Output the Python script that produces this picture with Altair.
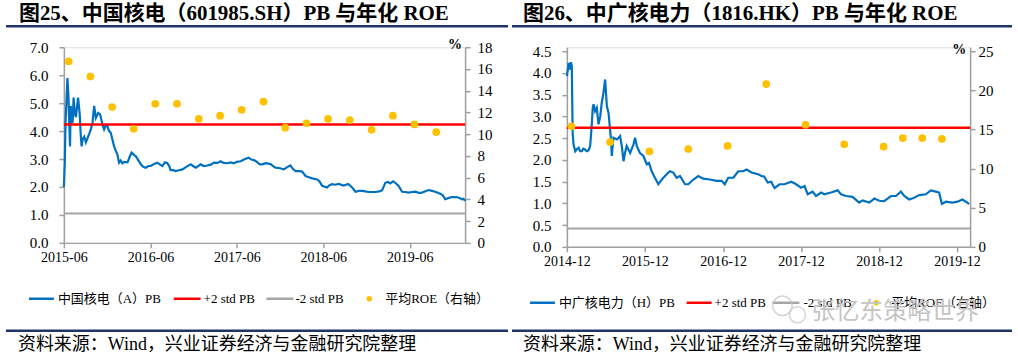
import altair as alt
import pandas as pd

# ================= 图25 中国核电 (left panel) =================
L_TITLE = "图25、中国核电（601985.SH）PB 与年化 ROE"
L_LEGEND = ["中国核电（A）PB", "+2 std PB", "-2 std PB", "平均ROE（右轴）"]
L_PB_DATES = [
    "2015-06-10", "2015-06-14", "2015-06-17", "2015-06-25", "2015-06-29", "2015-07-02", "2015-07-06",
    "2015-07-09", "2015-07-13", "2015-07-17", "2015-07-21", "2015-07-27", "2015-07-31", "2015-08-05",
    "2015-08-09", "2015-08-16", "2015-08-20", "2015-08-24", "2015-08-28", "2015-09-04", "2015-09-11",
    "2015-09-18", "2015-09-25", "2015-10-02", "2015-10-09", "2015-10-16", "2015-10-23", "2015-11-02",
    "2015-11-10", "2015-11-20", "2015-11-27", "2015-12-04", "2015-12-11", "2015-12-18", "2015-12-25",
    "2016-01-01", "2016-01-08", "2016-01-15", "2016-01-22", "2016-01-29", "2016-02-05", "2016-02-12",
    "2016-02-19", "2016-03-05", "2016-03-15", "2016-03-22", "2016-04-01", "2016-04-09", "2016-04-20",
    "2016-04-30", "2016-05-10", "2016-05-21", "2016-06-01", "2016-06-11", "2016-06-25", "2016-07-09",
    "2016-07-20", "2016-07-30", "2016-08-10", "2016-08-20", "2016-08-28", "2016-09-03", "2016-09-14",
    "2016-09-24", "2016-10-08", "2016-10-23", "2016-11-08", "2016-11-27", "2016-12-05", "2016-12-18",
    "2017-01-08", "2017-01-20", "2017-02-05", "2017-02-20", "2017-03-05", "2017-03-20", "2017-04-02",
    "2017-04-15", "2017-04-30", "2017-05-15", "2017-05-28", "2017-06-10", "2017-06-26", "2017-07-10",
    "2017-07-20", "2017-07-30", "2017-08-10", "2017-08-21", "2017-08-28", "2017-09-15", "2017-09-25",
    "2017-10-10", "2017-10-30", "2017-11-10", "2017-11-20", "2017-12-05", "2017-12-25", "2018-01-10",
    "2018-01-22", "2018-02-01", "2018-02-13", "2018-03-01", "2018-03-13", "2018-03-27", "2018-04-10",
    "2018-04-24", "2018-05-15", "2018-05-25", "2018-06-05", "2018-06-26", "2018-07-05", "2018-07-17",
    "2018-07-30", "2018-08-14", "2018-09-04", "2018-09-23", "2018-10-10", "2018-10-24", "2018-11-07",
    "2018-11-21", "2018-12-05", "2018-12-19", "2019-01-16", "2019-02-01", "2019-02-13", "2019-02-22",
    "2019-02-27", "2019-03-10", "2019-03-20", "2019-04-01", "2019-04-10", "2019-04-24", "2019-05-09",
    "2019-05-22", "2019-06-05", "2019-06-20", "2019-07-04", "2019-07-18", "2019-08-01", "2019-08-15",
    "2019-08-29", "2019-09-12", "2019-09-26", "2019-10-17", "2019-10-28", "2019-11-07", "2019-11-20",
    "2019-12-05", "2019-12-26", "2020-01-08", "2020-01-16", "2020-01-23", "2020-01-30",
]
L_PB_VALUES = [
    2.00, 2.90, 4.30, 5.90, 5.30, 4.50, 3.45,
    4.90, 4.40, 4.30, 5.20, 4.60, 4.50, 4.90,
    5.20, 4.60, 3.90, 3.45, 3.70, 3.80, 3.60,
    3.75, 3.90, 4.07, 4.30, 4.90, 4.47, 4.65,
    4.60, 4.24, 4.06, 4.20, 4.18, 4.00, 3.94,
    3.70, 3.46, 3.30, 3.17, 2.87, 2.95, 2.85,
    2.90, 2.88, 3.10, 3.23, 3.15, 3.10, 2.95,
    2.81, 2.72, 2.69, 2.75, 2.75, 2.82, 2.87,
    2.80, 2.75, 2.88, 2.85, 2.75, 2.60, 2.60,
    2.57, 2.60, 2.63, 2.72, 2.81, 2.76, 2.69,
    2.81, 2.75, 2.77, 2.80, 2.87, 2.86, 2.92,
    2.86, 2.85, 2.88, 2.85, 2.90, 2.92, 2.98,
    3.02, 3.05, 2.98, 2.96, 2.93, 2.81, 2.81,
    2.85, 2.82, 2.75, 2.69, 2.68, 2.63, 2.72,
    2.77, 2.65, 2.57, 2.57, 2.55, 2.39, 2.35,
    2.31, 2.27, 2.20, 2.04, 1.98, 2.06, 2.10,
    2.08, 2.11, 2.05, 2.11, 1.98, 1.83, 1.86,
    1.86, 1.84, 1.82, 1.82, 1.84, 1.88, 2.05,
    2.15, 2.18, 2.13, 2.20, 2.15, 2.04, 1.83,
    1.82, 1.80, 1.82, 1.83, 1.79, 1.80, 1.85,
    1.89, 1.86, 1.83, 1.76, 1.70, 1.56, 1.60,
    1.64, 1.64, 1.60, 1.56, 1.58, 1.50,
]
L_ROE_DATES = [
    "2015-06-30", "2015-09-30", "2015-12-31", "2016-03-31", "2016-06-30", "2016-09-30",
    "2016-12-31", "2017-03-31", "2017-06-30", "2017-09-30", "2017-12-31", "2018-03-31",
    "2018-06-30", "2018-09-30", "2018-12-31", "2019-03-31", "2019-06-30", "2019-09-30",
]
L_ROE_VALUES = [16.7, 15.3, 12.5, 10.5, 12.8, 12.8, 11.4, 11.7, 12.25, 13.0, 10.6, 11.0,
                11.4, 11.3, 10.4, 11.7, 10.9, 10.2]
L_PLUS2 = 4.24
L_MINUS2 = 1.05
L_X_DOMAIN = ["2015-06-10", "2020-01-30"]
L_X_TICKS = ["2015-06-10", "2016-06-10", "2017-06-10", "2018-06-10", "2019-06-10"]
L_Y_TICKS = [0, 1, 2, 3, 4, 5, 6, 7]
L_Y2_TICKS = [0, 2, 4, 6, 8, 10, 12, 14, 16, 18]

# ================= 图26 中广核电力 (right panel) =================
R_TITLE = "图26、中广核电力（1816.HK）PB 与年化 ROE"
R_LEGEND = ["中广核电力（H）PB", "+2 std PB", "-2 std PB", "平均ROE（右轴）"]
R_PB_DATES = [
    "2014-12-10", "2014-12-15", "2014-12-18", "2014-12-23", "2014-12-29", "2015-01-02", "2015-01-06",
    "2015-01-10", "2015-01-18", "2015-01-26", "2015-02-03", "2015-02-10", "2015-02-18", "2015-02-25",
    "2015-03-05", "2015-03-13", "2015-03-21", "2015-03-29", "2015-04-06", "2015-04-10", "2015-04-14",
    "2015-04-21", "2015-04-29", "2015-05-07", "2015-05-15", "2015-05-22", "2015-05-30", "2015-06-07",
    "2015-06-15", "2015-06-23", "2015-06-30", "2015-07-04", "2015-07-08", "2015-07-16", "2015-08-01",
    "2015-08-16", "2015-08-24", "2015-09-01", "2015-09-08", "2015-09-16", "2015-10-02", "2015-10-18",
    "2015-10-25", "2015-11-02", "2015-11-17", "2015-12-03", "2015-12-19", "2015-12-29", "2016-01-11",
    "2016-01-26", "2016-02-11", "2016-02-27", "2016-03-21", "2016-04-05", "2016-04-21", "2016-05-07",
    "2016-05-22", "2016-06-15", "2016-06-30", "2016-07-24", "2016-08-16", "2016-09-08", "2016-10-09",
    "2016-11-10", "2016-12-03", "2016-12-18", "2017-01-03", "2017-01-27", "2017-02-19", "2017-03-14",
    "2017-03-30", "2017-04-22", "2017-05-23", "2017-06-08", "2017-06-20", "2017-07-07", "2017-07-23",
    "2017-08-08", "2017-08-31", "2017-09-23", "2017-10-25", "2017-11-17", "2017-12-10", "2017-12-26",
    "2018-01-10", "2018-02-02", "2018-02-18", "2018-03-14", "2018-03-29", "2018-04-29", "2018-05-30",
    "2018-06-15", "2018-07-08", "2018-08-08", "2018-09-08", "2018-09-24", "2018-10-25", "2018-11-18",
    "2018-12-11", "2019-01-03", "2019-02-04", "2019-02-27", "2019-03-22", "2019-04-07", "2019-04-30",
    "2019-05-23", "2019-06-16", "2019-07-17", "2019-08-09", "2019-09-02", "2019-09-17", "2019-09-30",
    "2019-10-19", "2019-11-18", "2019-12-12", "2020-01-04", "2020-01-27", "2020-02-04",
]
R_PB_VALUES = [
    3.93, 4.10, 4.23, 4.08, 4.25, 4.16, 2.62,
    2.36, 2.20, 2.25, 2.28, 2.20, 2.20, 2.26,
    2.24, 2.20, 2.22, 2.32, 2.85, 3.20, 3.28,
    3.12, 3.20, 2.82, 3.00, 3.31, 3.54, 3.85,
    3.24, 3.08, 2.70, 2.50, 2.09, 2.51, 2.47,
    2.55, 2.32, 1.97, 2.16, 2.32, 2.16, 2.36,
    2.51, 2.32, 2.16, 2.09, 1.90, 1.93, 1.74,
    1.59, 1.44, 1.55, 1.67, 1.74, 1.71, 1.59,
    1.63, 1.44, 1.44, 1.55, 1.63, 1.57, 1.55,
    1.52, 1.52, 1.44, 1.59, 1.59, 1.74, 1.74,
    1.78, 1.71, 1.67, 1.63, 1.62, 1.48, 1.50,
    1.35, 1.44, 1.44, 1.50, 1.44, 1.36, 1.40,
    1.21, 1.27, 1.17, 1.25, 1.21, 1.25, 1.30,
    1.21, 1.17, 1.15, 1.02, 1.07, 1.02, 1.11,
    1.06, 1.05, 1.17, 1.17, 1.27, 1.17, 1.09,
    1.13, 1.19, 1.21, 1.30, 1.27, 1.25, 0.99,
    1.04, 1.02, 1.04, 1.09, 1.02, 0.98,
]
R_ROE_DATES = [
    "2014-12-31", "2015-06-30", "2015-12-31", "2016-06-30", "2016-12-31", "2017-06-30",
    "2017-12-31", "2018-06-30", "2018-12-31", "2019-03-31", "2019-06-30", "2019-09-30",
]
R_ROE_VALUES = [15.4, 13.4, 12.2, 12.5, 12.9, 20.8, 15.6, 13.1, 12.8, 13.9, 13.9, 13.8]
R_PLUS2 = 2.74
R_MINUS2 = 0.42
R_X_DOMAIN = ["2014-12-10", "2020-02-09"]
R_X_TICKS = ["2014-12-10", "2015-12-10", "2016-12-10", "2017-12-10", "2018-12-10", "2019-12-10"]
R_Y_TICKS = [0, 0.5, 1.0, 1.5, 2.0, 2.5, 3.0, 3.5, 4.0, 4.5]
R_Y2_TICKS = [0, 5, 10, 15, 20, 25]

SOURCE = "资料来源：Wind，兴业证券经济与金融研究院整理"
WATERMARK = "张忆东策略世界"

# ================= styles =================
FONT = "Liberation Serif, Noto Sans CJK SC"
AXIS_FONT = "Liberation Serif"
BLUE = "#0070C0"
RED = "#FF0000"
GRAY = "#A6A6A6"
GOLD = "#FFC000"
NAVY = "#1F3468"
AXIS_GRAY = "#A0A0A0"


def to_dt(s):
    y, m, d = (int(p) for p in s.split("-"))
    return alt.DateTime(year=y, month=m, date=d, utc=True)


def dummy():
    return alt.Chart(pd.DataFrame({"k": [0]}))


def text_mark(txt, x, y, size, weight="normal", align="left", baseline="alphabetic", color="#000000"):
    return dummy().mark_text(text=txt, align=align, baseline=baseline, fontSize=size,
                             fontWeight=weight, font=FONT, color=color).encode(
        x=alt.value(x), y=alt.value(y))


def hline(x1, x2, y, color, width):
    return dummy().mark_rule(color=color, strokeWidth=width).encode(
        x=alt.value(x1), x2=alt.value(x2), y=alt.value(y))


def axis_style(**kw):
    base = dict(labelFont=AXIS_FONT, labelColor="#000000", domainColor=AXIS_GRAY, domainWidth=1.5,
                tickColor=AXIS_GRAY, tickWidth=1.5, tickSize=5, grid=False)
    base.update(kw)
    return alt.Axis(**base)


def panel(pb_dates, pb_vals, roe_dates, roe_vals, plus2, minus2, x_domain, x_ticks,
          y_ticks, y_top, y2_ticks, y2_top, width, height, y2_pad, decor):
    pb_df = pd.DataFrame({"date": pb_dates, "pb": pb_vals})
    roe_df = pd.DataFrame({"date": roe_dates, "roe": roe_vals})
    x_enc = alt.X(
        "date:T",
        scale=alt.Scale(type="utc", domain=[to_dt(d) for d in x_domain]),
        axis=axis_style(values=[to_dt(d) for d in x_ticks],
                        labelExpr="utcFormat(datum.value, '%Y-%m')",
                        labelFontSize=14, labelPadding=3, labelFlush=False,
                        labelOverlap=False),
        title=None,
    )
    y_scale = alt.Scale(domain=[0, y_top], nice=False, zero=True)
    y_axis = axis_style(values=y_ticks, format=".1f", labelPadding=11, labelFontSize=15)
    line = alt.Chart(pb_df).mark_line(color=BLUE, strokeWidth=2.2).encode(
        x=x_enc, y=alt.Y("pb:Q", scale=y_scale, axis=y_axis, title=None))
    dn = alt.Chart(pd.DataFrame({"pb": [minus2]})).mark_rule(color=GRAY, strokeWidth=2).encode(
        y=alt.Y("pb:Q", scale=y_scale, axis=y_axis, title=None))
    up = alt.Chart(pd.DataFrame({"pb": [plus2]})).mark_rule(color=RED, strokeWidth=2.5).encode(
        y=alt.Y("pb:Q", scale=y_scale, axis=y_axis, title=None))
    left_layer = alt.layer(line, dn, up)
    pts = alt.Chart(roe_df).mark_circle(color=GOLD, size=60, opacity=1).encode(
        x=x_enc,
        y=alt.Y("roe:Q", scale=alt.Scale(domain=[0, y2_top], nice=False, zero=True),
                axis=axis_style(orient="right", values=y2_ticks, format="d",
                                labelPadding=y2_pad, labelFontSize=15),
                title=None),
    )
    return alt.layer(left_layer, pts, *decor).resolve_scale(y="independent").properties(
        width=width, height=height)


def legend_items(items, y, xs):
    (b1, b2, t1, r1, r2, t2, g1, g2, t3, d, t4) = xs
    return [
        hline(b1, b2, y, BLUE, 2.5), text_mark(items[0], t1, y, 13, baseline="middle"),
        hline(r1, r2, y, RED, 2.5), text_mark(items[1], t2, y, 13, baseline="middle"),
        hline(g1, g2, y, GRAY, 2.5), text_mark(items[2], t3, y, 13, baseline="middle"),
        dummy().mark_circle(color=GOLD, size=30, opacity=1).encode(x=alt.value(d), y=alt.value(y)),
        text_mark(items[3], t4, y, 13, baseline="middle"),
    ]


# ---- left decorations (pixel offsets relative to the left plot area) ----
left_decor = [
    dummy().mark_rect(opacity=0).encode(x=alt.value(-63), x2=alt.value(955),
                                        y=alt.value(-46), y2=alt.value(311)),
    text_mark(L_TITLE, -45, -27, 21, weight="bold"),
    hline(-58, 445, -21, NAVY, 2.5),
    text_mark("%", 392, -2, 14, weight="bold", align="center", baseline="middle"),
    *legend_items(L_LEGEND, 252, (-35, -10, -6, 110, 137, 140, 203, 230, 232, 306, 322)),
    hline(-58, 445, 284, NAVY, 2.5),
    text_mark(SOURCE, -46, 303, 18),
]

# ---- right decorations (pixel offsets relative to the right plot area) ----
right_decor = [
    text_mark(R_TITLE, -44, -27, 21, weight="bold"),
    hline(-55, 446, -21, NAVY, 2.5),
    text_mark("%", 393, 3, 14, weight="bold", align="center", baseline="middle"),
    *legend_items(R_LEGEND, 256, (-37, -12, -8, 120, 145, 148, 206, 233, 237, 310, 325)),
    dummy().mark_point(shape="circle", filled=False, color="#C4C4C4", strokeWidth=1.5, size=380).encode(
        x=alt.value(216), y=alt.value(259)),
    dummy().mark_point(shape="circle", filled=False, color="#C4C4C4", strokeWidth=1.5, size=260).encode(
        x=alt.value(231), y=alt.value(268)),
    text_mark(WATERMARK, 245, 265, 24, baseline="middle", color="#C4C4C4"),
    hline(-55, 446, 284, NAVY, 2.5),
    text_mark(SOURCE, -44, 303, 18),
]

left = panel(L_PB_DATES, L_PB_VALUES, L_ROE_DATES, L_ROE_VALUES, L_PLUS2, L_MINUS2,
             L_X_DOMAIN, L_X_TICKS, L_Y_TICKS, 7, L_Y2_TICKS, 18, 402, 196, 7, left_decor)
right = panel(R_PB_DATES, R_PB_VALUES, R_ROE_DATES, R_ROE_VALUES, R_PLUS2, R_MINUS2,
              R_X_DOMAIN, R_X_TICKS, R_Y_TICKS, 4.5 * 200 / 196, R_Y2_TICKS, 25 * 200 / 196,
              404, 200, 3, right_decor)

chart = alt.hconcat(left, right).properties(
    spacing=102, bounds="flush", padding=0
).configure_view(stroke=None).configure(background="white")

chart.save("out.html", embed_options={"renderer": "svg", "actions": False})
